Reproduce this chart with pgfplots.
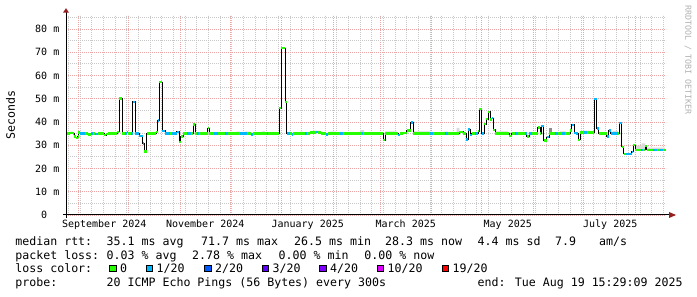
\documentclass[border=0pt]{standalone}
\usepackage{pgfplots}
\pgfplotsset{compat=1.18}
\usepackage{pgfplotstable}
\usepackage{fontspec}
\setmainfont{DejaVu Sans Mono}
\newfontfamily\mono{DejaVu Sans Mono}
\definecolor{lossA}{HTML}{26FF00}
\definecolor{lossB}{HTML}{00B8FF}
\definecolor{lossC}{HTML}{0059FF}
\definecolor{lossD}{HTML}{5E00FF}
\definecolor{lossE}{HTML}{7E00FF}
\definecolor{lossF}{HTML}{DD00FF}
\definecolor{lossG}{HTML}{FF0000}
\definecolor{gridmaj}{RGB}{235,165,165}
\definecolor{gridmin}{RGB}{200,200,200}
\definecolor{arrowred}{RGB}{150,30,30}
\definecolor{smoke}{RGB}{218,218,218}
\definecolor{smokedark}{RGB}{140,140,140}
\newcommand\legf{\mono\fontsize{11.6bp}{14bp}\selectfont}
\newcommand\tickf{\mono\fontsize{10bp}{12bp}\selectfont}

% median rtt steps: start day, end day (days from 1 Sep 2024), ms, loss class (0 = 0/20, 1 = 1/20)
\pgfplotstableread{
x x2 y c
-7.35 -4.95 35.0 0
-4.95 -3.15 35.3 0
-3.15 -2.55 35.0 0
-2.55 -1.65 33.8 0
-1.65 -0.45 33.2 0
-0.45 0.03 33.8 0
0.03 1.05 35.5 0
1.05 4.05 35.0 1
4.05 5.85 35.0 0
5.85 7.65 34.7 0
7.65 8.85 35.0 1
8.85 10.05 35.0 0
10.05 12.03 34.8 1
12.03 15.45 35.0 0
15.45 16.65 34.3 0
16.65 17.85 34.8 0
17.85 23.43 35.1 0
23.43 24.63 35.8 0
24.63 26.25 50.1 0
26.25 28.05 35.0 0
28.05 29.07 35.0 1
29.07 30.03 35.6 1
30.03 31.65 35.0 0
31.65 32.67 35.0 1
32.67 34.23 48.7 1
34.23 36.63 35.0 1
36.63 38.67 34.0 1
38.67 39.63 30.8 1
39.63 41.07 27.3 0
41.07 46.65 35.0 0
46.65 47.67 35.8 0
47.67 48.63 40.7 1
48.63 50.25 57.1 0
50.25 52.05 36.2 1
52.05 55.05 35.0 1
55.05 56.25 35.0 0
56.25 59.07 35.0 1
59.07 60.63 35.8 1
60.63 61.47 31.5 0
61.47 62.85 33.8 0
62.85 65.25 35.0 0
65.25 67.65 35.0 1
67.65 69.03 35.0 0
69.03 70.05 39.0 0
70.05 71.25 35.0 0
71.25 72.45 35.0 1
72.45 77.67 35.0 0
77.67 78.63 37.3 0
78.63 81.45 35.0 0
81.45 83.85 35.0 1
83.85 88.05 35.0 0
88.05 89.85 35.0 1
89.85 97.05 35.0 0
97.05 101.25 35.0 1
101.25 103.65 35.0 0
103.65 104.85 34.6 1
104.85 113.07 35.0 0
113.07 114.03 35.0 1
114.03 120.63 35.0 0
120.63 121.83 46.0 0
121.83 124.05 71.7 0
124.05 125.07 48.7 0
125.07 127.05 35.0 1
127.05 128.07 35.0 0
128.07 129.03 34.7 1
129.03 136.05 35.0 0
136.05 137.43 35.0 1
137.43 139.05 35.0 0
139.05 142.65 35.5 0
142.65 143.85 35.7 1
143.85 145.65 35.5 0
145.65 148.65 35.0 0
148.65 149.85 34.7 1
149.85 157.05 35.0 0
157.05 158.85 35.0 1
158.85 170.07 35.0 0
170.07 171.03 35.0 1
171.03 183.03 35.0 0
183.03 184.05 32.2 0
184.05 192.03 35.0 0
192.03 193.05 34.4 1
193.05 195.03 35.0 0
195.03 197.07 35.3 0
197.07 199.47 36.3 0
199.47 201.03 39.7 1
201.03 211.05 35.0 0
211.05 212.85 35.0 1
212.85 220.05 35.0 0
220.05 221.85 35.0 1
221.85 228.63 35.0 0
228.63 231.03 35.7 0
231.03 232.65 35.0 0
232.65 234.03 32.4 1
234.03 235.05 36.8 1
235.05 236.07 34.4 1
236.07 238.05 35.0 0
238.05 240.03 35.0 1
240.03 240.63 36.1 0
240.63 242.07 45.5 0
242.07 243.45 35.1 1
243.45 244.65 39.1 0
244.65 246.03 41.2 0
246.03 247.05 44.3 0
247.05 248.07 41.0 0
248.07 249.03 41.6 1
249.03 250.05 36.6 0
250.05 258.63 35.0 0
258.63 260.07 34.0 0
260.07 262.05 35.0 0
262.05 263.85 35.0 1
263.85 268.05 35.0 0
268.05 269.07 35.0 1
269.07 270.45 33.7 0
270.45 272.25 35.0 1
272.25 275.67 35.0 0
275.67 277.05 37.7 0
277.05 277.65 35.0 0
277.65 279.27 38.3 1
279.27 281.07 32.1 0
281.07 282.63 33.5 1
282.63 286.05 35.0 0
286.05 287.85 35.0 1
287.85 290.25 35.0 0
290.25 292.05 35.0 1
292.05 295.05 35.0 0
295.05 296.07 36.3 0
296.07 297.45 38.8 1
297.45 298.65 35.3 1
298.65 300.03 35.0 1
300.03 301.05 32.3 0
301.05 303.45 35.5 0
303.45 305.25 35.5 1
305.25 309.45 35.5 0
309.45 311.07 49.9 1
311.07 312.27 37.2 1
312.27 317.07 35.0 0
317.07 318.27 33.7 1
318.27 319.47 36.3 1
319.47 324.03 35.0 1
324.03 324.63 35.0 0
324.63 326.07 39.6 1
326.07 327.15 29.3 0
327.15 328.65 26.3 0
328.65 332.07 26.3 1
332.07 333.03 27.2 1
333.03 334.05 30.0 0
334.05 337.65 28.0 0
337.65 338.85 28.0 1
338.85 340.05 28.0 0
340.05 341.07 29.6 0
341.07 344.67 28.0 0
344.67 347.07 28.0 1
347.07 349.05 28.0 0
349.05 351.03 28.0 1
351.03 352.47 28.0 0
352.47 352.47 28.0 2
}\steps

% smoke (spread of the pings), light
\pgfplotstableread{
x y
-4.95 35.0
-3.15 35.0
-3.15 35.8
-4.95 35.8
nan nan
94.65 35.0
97.05 35.0
97.05 35.8
94.65 35.8
nan nan
100.05 35.0
103.05 35.0
103.05 35.8
100.05 35.8
nan nan
110.25 35.0
112.05 35.0
112.05 36.0
110.25 36.0
nan nan
133.05 35.0
134.85 35.0
134.85 35.9
133.05 35.9
nan nan
140.85 35.5
145.05 35.5
145.05 36.3
140.85 36.3
nan nan
151.05 35.0
154.65 35.0
154.65 35.8
151.05 35.8
nan nan
169.05 35.0
171.45 35.0
171.45 36.5
169.05 36.5
nan nan
184.05 35.0
191.25 35.0
191.25 36.0
184.05 36.0
nan nan
201.45 35.0
211.05 35.0
211.05 36.0
201.45 36.0
nan nan
219.45 35.0
221.85 35.0
221.85 35.9
219.45 35.9
nan nan
227.07 35.0
228.63 35.0
228.63 37.5
227.07 37.5
nan nan
250.65 35.0
257.85 35.0
257.85 36.0
250.65 36.0
nan nan
289.05 35.0
292.65 35.0
292.65 36.0
289.05 36.0
nan nan
301.65 35.5
307.05 35.5
307.05 36.3
301.65 36.3
nan nan
320.85 35.0
323.85 35.0
323.85 36.2
320.85 36.2
nan nan
334.65 28.0
340.05 28.0
340.05 29.8
334.65 29.8
nan nan
338.07 28.0
340.05 28.0
340.05 30.8
338.07 30.8
nan nan
341.25 28.0
352.05 28.0
352.05 29.0
341.25 29.0
}\smoke

% smoke, darker
\pgfplotstableread{
x y
282.63 35.0
284.07 35.0
284.07 37.6
282.63 37.6
}\smokedk

\begin{document}
\begin{tikzpicture}
\path[use as bounding box, fill=white] (0,0) rectangle (697bp,297bp);
\begin{axis}[
  at={(66bp,82bp)}, anchor=south west,
  scale only axis, width=600bp, height=200bp,
  xmin=-7.35, xmax=352.65, ymin=0, ymax=86,
  axis line style={draw=none},
  major tick length=0pt, minor tick length=0pt,
  xtick={0,30,61,91,122,153,181,212,242,273,303,334},
  xticklabels={,,,,,,,,,,,},
  minor xtick={-6,1,...,350},
  extra x ticks={15.6,76.2,137.7,196.5,257.7,319.2},
  extra x tick labels={September 2024,November 2024,January 2025,March 2025,May 2025,July 2025},
  extra x tick style={grid=none, xticklabel style={anchor=base, yshift=-13bp}},
  ytick={0,10,...,80},
  yticklabels={0\phantom{ m},10 m,20 m,30 m,40 m,50 m,60 m,70 m,80 m},
  minor ytick={5,15,...,85},
  grid=both,
  major grid style={gridmaj, line width=0.8bp, dash pattern=on 1bp off 1bp},
  minor grid style={gridmin, line width=0.8bp, dash pattern=on 1bp off 1bp},
  tick label style={font=\tickf, inner sep=0pt, text=black},
  yticklabel style={anchor=base east, xshift=-6.5bp, yshift=-3.6bp},
  unbounded coords=jump,
]
\addplot[fill=smoke, draw=none, mark=none] table[x=x, y=y] {\smoke};
\addplot[fill=smokedark, draw=none, mark=none] table[x=x, y=y] {\smokedk};
\addplot[const plot mark left, black, line width=1bp, mark=none] table[x=x, y=y] {\steps};
\addplot[draw=none, mark=none, mark size=0pt, restrict expr to domain={\thisrow{c}}{-0.5:0.5},
  error bars/.cd, x dir=plus, x explicit, error mark=none,
  error bar style={draw=lossA, line width=2.4bp}]
  table[x=x, y=y, x error expr=\thisrow{x2}-\thisrow{x}] {\steps};
\addplot[draw=none, mark=none, mark size=0pt, restrict expr to domain={\thisrow{c}}{0.5:1.5},
  error bars/.cd, x dir=plus, x explicit, error mark=none,
  error bar style={draw=lossB, line width=2.4bp}]
  table[x=x, y=y, x error expr=\thisrow{x2}-\thisrow{x}] {\steps};
\end{axis}
% axes with arrows
\draw[black, line width=1bp] (63bp,82bp) -- (670bp,82bp);
\fill[arrowred] (669bp,85bp) -- (676bp,82bp) -- (669bp,79bp) -- cycle;
\draw[black, line width=1bp] (66bp,79bp) -- (66bp,285bp);
\fill[arrowred] (63bp,284.3bp) -- (66bp,288.8bp) -- (69bp,284.3bp) -- cycle;
% labels
\node[rotate=90, font=\legf, inner sep=0pt] at (10.5bp,182bp) {Seconds};
\node[rotate=-90, font=\mono\fontsize{8.3bp}{10bp}\selectfont, text=black!30, inner sep=0pt] at (688bp,237bp) {RRDTOOL / TOBI OETIKER};
% legend
\begin{scope}[every node/.style={anchor=base west, inner sep=0pt, font=\legf}]
\node at (15.2bp,51.8bp) {median rtt:};
\node at (106.5bp,51.8bp) {35.1 ms avg};
\node at (201bp,51.8bp) {71.7 ms max};
\node at (294bp,51.8bp) {26.5 ms min};
\node at (385bp,51.8bp) {28.3 ms now};
\node at (477.5bp,51.8bp) {4.4 ms sd};
\node at (555bp,51.8bp) {7.9};
\node at (599bp,51.8bp) {am/s};
\node at (15.2bp,38bp) {packet loss:};
\node at (106.5bp,38bp) {0.03 \% avg};
\node at (192bp,38bp) {2.78 \% max};
\node at (278.5bp,38bp) {0.00 \% min};
\node at (364.2bp,38bp) {0.00 \% now};
\node at (15.2bp,24.3bp) {loss color:};
\node at (119.8bp,24.3bp) {0};
\node at (156.5bp,24.3bp) {1/20};
\node at (215bp,24.3bp) {2/20};
\node at (272.5bp,24.3bp) {3/20};
\node at (330bp,24.3bp) {4/20};
\node at (387.5bp,24.3bp) {10/20};
\node at (452.5bp,24.3bp) {19/20};
\node at (15.2bp,10.5bp) {probe:};
\node at (106.5bp,10.5bp) {20 ICMP Echo Pings (56 Bytes) every 300s};
\node at (477.5bp,10.5bp) {end: Tue Aug 19 15:29:09 2025};
\end{scope}
\begin{scope}[line width=0.5bp]
\filldraw[fill=lossA, draw=black] (109.3bp,25.3bp) rectangle (116bp,32bp);
\filldraw[fill=lossB, draw=black] (146bp,25.3bp) rectangle (152.7bp,32bp);
\filldraw[fill=lossC, draw=black] (204.5bp,25.3bp) rectangle (211.2bp,32bp);
\filldraw[fill=lossD, draw=black] (262bp,25.3bp) rectangle (268.7bp,32bp);
\filldraw[fill=lossE, draw=black] (319.5bp,25.3bp) rectangle (326.2bp,32bp);
\filldraw[fill=lossF, draw=black] (377bp,25.3bp) rectangle (383.7bp,32bp);
\filldraw[fill=lossG, draw=black] (442bp,25.3bp) rectangle (448.7bp,32bp);
\end{scope}
\end{tikzpicture}
\end{document}
